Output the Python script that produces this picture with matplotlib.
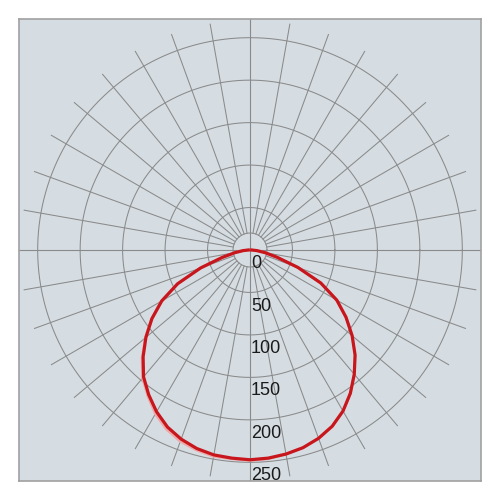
import numpy as np
import matplotlib
matplotlib.use("Agg")
import matplotlib.pyplot as plt

# light distribution, cd, angle from nadir (deg)
angles = [0, 5, 10, 15, 20, 25, 30, 35, 40, 45, 50, 55, 60, 65, 70, 75, 80, 85, 90]
# C0 plane (right half) and C180 (left half)
c0 = [247, 246, 244, 241, 236, 229, 219, 206, 191, 175, 157, 138, 118, 92, 60, 33, 18, 8, 2]
c180 = [247, 246, 245, 242, 237, 230, 220, 208, 195, 178, 160, 141, 120, 94, 62, 34, 18, 8, 2]
# second plane (lighter trace)
c90 = [248, 247, 244, 241, 236, 229, 219, 206, 191, 175, 157, 138, 118, 92, 60, 33, 18, 8, 2]
c270 = [248, 247, 247, 244, 240, 233, 223, 210, 197, 180, 161, 142, 121, 95, 62, 34, 18, 8, 2]

rings = [50, 100, 150, 200, 250]
ring_labels = ["0", "50", "100", "150", "200", "250"]
r_inner = 20
r_outer = 270
lim = 272

bg = "#d5dde3"
grid_c = "#8a8a8a"


def to_xy(ang_deg, r, side):
    t = np.radians(np.asarray(ang_deg, dtype=float))
    r = np.asarray(r, dtype=float)
    return side * r * np.sin(t), -r * np.cos(t)


def curve(right, left):
    xr, yr = to_xy(angles, right, 1)
    xl, yl = to_xy(angles, left, -1)
    x = np.concatenate([xl[::-1], xr])
    y = np.concatenate([yl[::-1], yr])
    return x, y


fig = plt.figure(figsize=(5, 5), dpi=100)
ax = fig.add_axes([0.038, 0.038, 0.924, 0.924])
ax.set_facecolor(bg)
ax.set_xlim(-lim, lim)
ax.set_ylim(-lim, lim)
ax.set_aspect("equal")
ax.set_xticks([])
ax.set_yticks([])
for s in ax.spines.values():
    s.set_color("#a0a0a0")
    s.set_linewidth(1.2)

# rings
th = np.linspace(0, 2 * np.pi, 400)
for r in [r_inner] + rings:
    ax.plot(r * np.cos(th), r * np.sin(th), color=grid_c, lw=0.75, zorder=1)

# radial lines every 10 deg
for a in range(0, 360, 10):
    if a % 90 == 0:
        continue
    t = np.radians(a)
    ax.plot([r_inner * np.cos(t), r_outer * np.cos(t)],
            [r_inner * np.sin(t), r_outer * np.sin(t)],
            color=grid_c, lw=0.75, zorder=1)

# main axes
ax.axhline(0, color=grid_c, lw=0.8, zorder=1)
ax.axvline(0, color=grid_c, lw=0.8, zorder=1)

# curves
x2, y2 = curve(c90, c270)
ax.plot(x2, y2, color="#eeaaaa", lw=1.8, zorder=2)
x1, y1 = curve(c0, c180)
ax.plot(x1, y1, color="#c8161d", lw=2.3, zorder=3)

# ring labels
for i, lab in enumerate(ring_labels):
    r = 0 if i == 0 else rings[i - 1]
    ax.text(1.0, -r - 6, lab, ha="left", va="top", fontsize=13,
            family="Liberation Sans", color="#1a1a1a", zorder=4,
            clip_on=True)

fig.savefig("out.png", dpi=100, facecolor="white")
